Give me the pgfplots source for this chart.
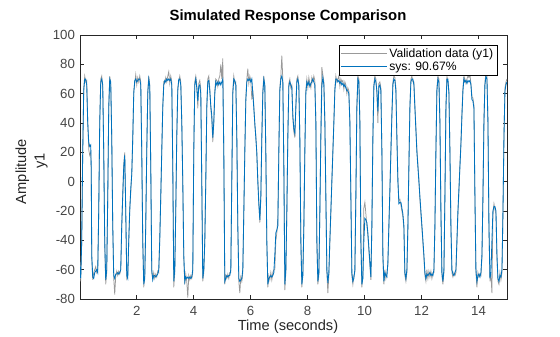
\documentclass[border=0pt]{standalone}
\usepackage{fontspec}
\setmainfont{Liberation Sans}
\usepackage{pgfplots}
\usepackage{pgfplotstable}
\pgfplotsset{compat=1.18}
\definecolor{mblue}{rgb}{0,0.447,0.741}
\definecolor{axgray}{rgb}{0.15,0.15,0.15}
\definecolor{tickgray}{rgb}{0.27,0.27,0.27}
\definecolor{valgray}{rgb}{0.6,0.6,0.6}
\pgfplotstableread{
t sys val
0.010 -58 -55
0.035 -66 -68
0.070 -40 -42
0.105 20 18
0.141 62 64
0.176 70 72
0.211 70 68
0.246 66 69
0.281 40 42
0.316 27 22
0.351 24 18
0.386 25 20
0.404 10 8
0.422 -50 -52
0.457 -65 -67
0.492 -66 -62
0.527 -62 -60
0.562 -61 -58
0.597 -60 -62
0.632 -62 -60
0.667 -20 -22
0.703 40 42
0.738 68 70
0.773 70 72
0.808 66 64
0.843 20 22
0.878 -40 -44
0.913 -67 -70
0.948 -60 -62
0.984 -10 -12
1.019 50 52
1.054 70 72
1.089 68 66
1.124 30 32
1.159 -30 -28
1.194 -64 -66
1.229 -66 -77
1.265 -63 -64
1.300 -63 -61
1.335 -62 -64
1.370 -63 -61
1.405 -62 -63
1.440 -60 -60
1.475 -30 -32
1.510 -10 -8
1.546 10 12
1.581 18 20
1.616 -20 -22
1.651 -64 -66
1.686 -66 -64
1.721 -40 -42
1.756 -20 -18
1.791 -5 -8
1.827 5 6
1.862 30 28
1.897 60 62
1.932 69 67
1.967 70 73
2.002 68 66
2.037 69 71
2.072 70 68
2.108 70 72
2.143 66 68
2.178 20 22
2.213 -40 -42
2.248 -70 -72
2.283 -66 -64
2.318 -30 -28
2.353 20 22
2.389 60 62
2.424 70 72
2.459 65 66
2.494 10 12
2.529 -60 -62
2.564 -67 -66
2.599 -64 -62
2.634 -64 -66
2.670 -65 -63
2.705 -64 -65
2.740 -63 -61
2.775 -60 -62
2.810 -40 -38
2.845 -10 -12
2.880 20 22
2.915 50 52
2.951 66 68
2.986 69 67
3.021 68 71
3.056 70 68
3.091 69 72
3.126 70 75
3.161 69 67
3.196 70 72
3.232 66 68
3.267 10 12
3.302 -68 -72
3.337 -60 -62
3.372 -20 -18
3.407 30 32
3.442 62 64
3.477 70 68
3.513 70 72
3.548 66 68
3.583 40 42
3.618 0 -2
3.653 -50 -52
3.688 -68 -70
3.723 -65 -63
3.758 -66 -68
3.794 -65 -79
3.829 -66 -64
3.864 -65 -67
3.899 -66 -64
3.934 -65 -66
3.969 -60 -62
4.004 20 22
4.039 66 68
4.075 70 72
4.110 64 66
4.145 55 50
4.180 65 67
4.215 66 69
4.250 60 63
4.285 0 2
4.320 -66 -68
4.356 -60 -62
4.391 -40 -42
4.426 0 2
4.461 50 52
4.496 68 70
4.531 69 72
4.566 62 64
4.601 52 50
4.637 45 42
4.672 30 27
4.707 40 42
4.742 60 62
4.777 68 70
4.812 66 69
4.847 68 65
4.882 66 70
4.918 68 72
4.953 66 80
4.988 68 70
5.023 70 84
5.058 20 22
5.093 -68 -70
5.128 -66 -64
5.163 -64 -66
5.199 -65 -63
5.234 -64 -66
5.269 -64 -62
5.304 -60 -62
5.339 0 2
5.374 60 62
5.409 70 72
5.444 69 67
5.480 66 68
5.515 30 32
5.550 -30 -32
5.585 -66 -68
5.620 -68 -76
5.655 -67 -65
5.690 -66 -68
5.725 -60 -62
5.761 -20 -22
5.796 20 22
5.831 55 57
5.866 68 70
5.901 70 77
5.936 69 67
5.971 70 72
6.006 68 69
6.042 70 56
6.077 60 62
6.112 50 52
6.147 40 38
6.182 30 32
6.217 20 18
6.252 0 2
6.287 -15 -13
6.323 -26 -28
6.358 -10 -12
6.393 30 32
6.428 60 62
6.463 70 72
6.498 66 64
6.533 20 22
6.568 -40 -42
6.604 -70 -72
6.639 -66 -64
6.674 -65 -67
6.709 -64 -62
6.744 -65 -67
6.779 -64 -62
6.814 -62 -60
6.849 -50 -60
6.885 -35 -40
6.920 -33 -35
6.955 -30 -25
6.990 20 22
7.025 62 64
7.060 70 72
7.095 72 86
7.130 68 70
7.166 10 12
7.201 -70 -74
7.236 -60 -62
7.271 -20 -22
7.306 30 32
7.341 65 67
7.376 68 70
7.411 66 64
7.447 64 66
7.482 45 43
7.517 36 34
7.552 33 30
7.587 50 52
7.622 68 70
7.657 70 72
7.692 66 64
7.727 30 32
7.763 -40 -42
7.798 -70 -72
7.833 -64 -62
7.868 -30 -32
7.903 20 22
7.938 60 62
7.973 68 70
8.009 66 64
8.044 68 71
8.079 65 67
8.114 67 64
8.149 68 71
8.184 70 68
8.219 68 72
8.254 66 69
8.290 40 42
8.325 -40 -42
8.360 -68 -70
8.395 -62 -64
8.430 -20 -22
8.465 30 32
8.500 65 78
8.535 71 73
8.571 66 68
8.606 40 42
8.641 -10 -12
8.676 -60 -62
8.711 -69 -76
8.746 -62 -64
8.781 -40 -42
8.816 -20 -22
8.852 0 2
8.887 20 22
8.922 40 42
8.957 62 64
8.992 70 72
9.027 70 68
9.062 68 70
9.097 69 72
9.133 67 65
9.168 68 70
9.203 66 68
9.238 67 69
9.273 65 63
9.308 66 68
9.343 64 66
9.378 62 60
9.413 62 64
9.448 60 62
9.484 40 42
9.519 -10 -12
9.554 -62 -64
9.589 -68 -70
9.624 -66 -64
9.659 -60 -62
9.694 -10 -12
9.729 50 52
9.765 70 72
9.800 68 70
9.835 40 42
9.870 -40 -42
9.905 -70 -72
9.940 -66 -64
9.975 -40 -18
10.011 -25 -14
10.046 -26 -22
10.081 -28 -30
10.116 -35 -37
10.151 -45 -47
10.186 -55 -57
10.221 -65 -67
10.256 -30 -32
10.292 30 32
10.327 65 67
10.362 70 72
10.397 68 70
10.432 62 60
10.467 48 40
10.502 65 67
10.537 66 68
10.572 62 64
10.608 20 22
10.643 -50 -52
10.678 -68 -70
10.713 -62 -60
10.748 -64 -66
10.783 -65 -62
10.818 -55 -57
10.853 -30 -32
10.889 -5 -7
10.924 20 22
10.959 45 47
10.994 66 68
11.029 70 72
11.064 69 71
11.099 62 64
11.134 30 32
11.170 0 2
11.205 -15 -13
11.240 -14 -12
11.275 -14 -16
11.310 -18 -20
11.345 -22 -24
11.380 -30 -32
11.415 -62 -64
11.451 -66 -68
11.486 -60 -62
11.521 -30 -32
11.556 10 12
11.591 50 52
11.626 68 70
11.661 70 72
11.696 70 68
11.732 66 68
11.767 50 52
11.802 35 37
11.837 20 22
11.872 10 12
11.907 0 2
11.942 -10 -12
11.977 -20 -22
12.013 -30 -32
12.048 -40 -42
12.083 -50 -52
12.118 -62 -64
12.153 -66 -68
12.188 -63 -60
12.223 -64 -66
12.258 -63 -61
12.294 -62 -65
12.329 -64 -61
12.364 -63 -66
12.399 -64 -62
12.434 -60 -62
12.469 -30 -32
12.504 20 22
12.539 62 64
12.575 70 72
12.610 68 70
12.645 40 42
12.680 -20 -22
12.715 -62 -64
12.750 -68 -70
12.785 -60 -62
12.820 -10 -12
12.856 50 52
12.891 70 72
12.926 70 68
12.961 60 62
12.996 20 22
13.031 -30 -32
13.066 -60 -62
13.101 -63 -65
13.137 -64 -62
13.172 -62 -64
13.207 -60 -62
13.242 -40 -42
13.277 -20 -22
13.312 -5 -7
13.347 10 12
13.382 25 27
13.418 45 47
13.453 62 64
13.488 70 72
13.523 68 70
13.558 69 67
13.593 67 70
13.628 69 72
13.663 68 71
13.699 69 73
13.734 66 67
13.769 56 58
13.804 55 57
13.839 50 52
13.874 -10 -12
13.909 -60 -62
13.944 -68 -72
13.980 -64 -62
14.015 -63 -65
14.050 -65 -63
14.085 -62 -64
14.120 -50 -52
14.155 -10 -12
14.190 40 42
14.225 66 68
14.261 72 74
14.296 70 72
14.331 40 42
14.366 -30 -32
14.401 -66 -68
14.436 -62 -64
14.471 -40 -76
14.506 -20 -22
14.542 -17 -15
14.577 -17 -19
14.612 -20 -22
14.647 -50 -52
14.682 -66 -68
14.717 -68 -70
14.752 -64 -62
14.787 -65 -67
14.823 -60 -62
14.858 -20 -22
14.893 30 32
14.928 62 64
14.963 66 68
14.998 68 70
}\datatable
\begin{document}
\begin{tikzpicture}
\path[use as bounding box] (0bp,0bp) rectangle (560bp,337bp);
\begin{axis}[
  at={(80bp,38bp)}, anchor=south west,
  scale only axis, width=427bp, height=264bp,
  xmin=0.01, xmax=15, ymin=-80, ymax=100,
  xtick={2,4,...,14}, ytick={-80,-60,...,100},
  tick align=inside, major tick length=4.3bp,
  axis line style={axgray, line width=0.5bp},
  every tick/.style={axgray, line width=0.5bp},
  tick label style={font=\fontsize{13.3}{15}\selectfont, text=tickgray},
  /pgf/number format/assume math mode=true,
  yticklabel style={xshift=-1.5bp},
  xticklabel style={yshift=-4bp},
  legend style={at={(1,1)}, anchor=north east, xshift=-10bp, yshift=-10bp,
    draw=black, line width=0.5bp, fill=white,
    font=\fontsize{12.2}{13}\selectfont, inner xsep=2bp, inner ysep=1.5bp,
    row sep=0bp, nodes={inner sep=1.6bp, text=black}},
  legend cell align=left,
  legend image code/.code={\draw[#1] (0bp,0bp) -- (46bp,0bp);},
]
\addplot[valgray, line width=0.75bp] table[x=t, y=val] {\datatable};
\addlegendentry{Validation data (y1)}
\addplot[mblue, line width=0.85bp] table[x=t, y=sys] {\datatable};
\addlegendentry{sys: 90.67\%}
\end{axis}
\node[anchor=base, font=\bfseries\fontsize{14.9}{16}\selectfont] at (288bp,316.5bp) {Simulated Response Comparison};
\node[anchor=base, font=\fontsize{14.7}{16}\selectfont, text=axgray] at (288bp,6.5bp) {Time (seconds)};
\node[anchor=base, rotate=90, font=\fontsize{14.7}{16}\selectfont, text=axgray] at (26bp,165.5bp) {Amplitude};
\node[anchor=base, rotate=90, font=\fontsize{14.7}{16}\selectfont, text=axgray] at (44.5bp,176bp) {y1};
\end{tikzpicture}
\end{document}
